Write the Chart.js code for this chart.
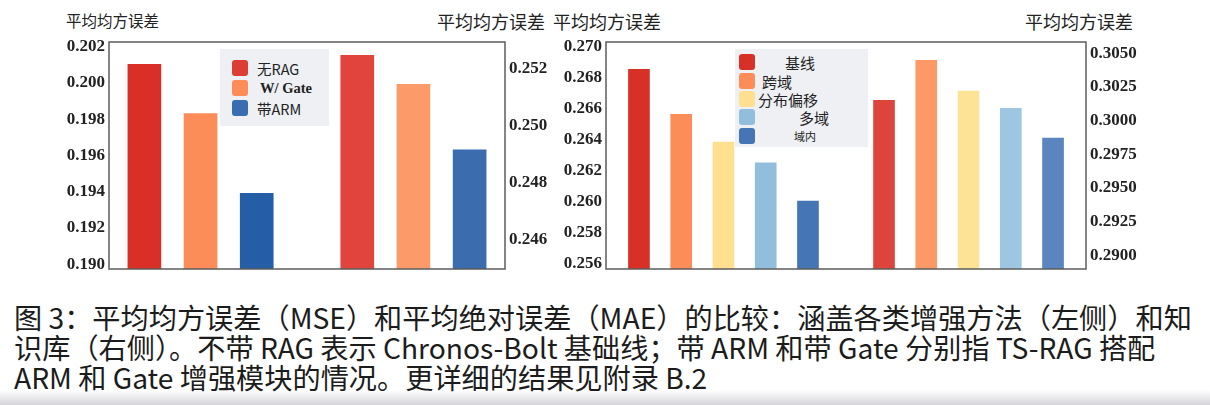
<!DOCTYPE html>
<html>
<head>
<meta charset="utf-8">
<script src="https://cdn.jsdelivr.net/npm/chart.js@4/dist/chart.umd.min.js"></script>
<style>
    html, body { margin: 0; padding: 0; background: #fff; }
    #page { position: relative; width: 1210px; height: 405px; overflow: hidden; background: #fff; }
    .cv { position: absolute; }
    .ttl { position: absolute; font-family: "Noto Sans CJK SC", sans-serif; color: #222; white-space: nowrap; line-height: 1; }
    .legend { position: absolute; background: #eef0f4; }
    .sw { position: absolute; width: 16px; height: 16px; border-radius: 3px; }
    .lb { position: absolute; white-space: nowrap; color: #222; line-height: 1; transform: translateY(-50%); }
    #caption { position: absolute; left: 14px; top: 302px; font-family: "Noto Sans CJK SC", sans-serif; font-size: 28.2px; line-height: 30px; color: #1c1c1c; white-space: nowrap; }
    #strip { position: absolute; left: 0; top: 390px; width: 1210px; height: 15px;
        background: linear-gradient(to bottom, rgba(255,255,255,0), rgba(150,150,160,0.4)); }
</style>
</head>
<body>
<div id="page">
    <div class="ttl" style="left:66px; top:13px; font-size:15.5px;">平均均方误差</div>
    <div class="ttl" style="left:437px; top:12px; font-size:18px;">平均均方误差</div>
    <div class="ttl" style="left:553px; top:12px; font-size:18px;">平均均方误差</div>
    <div class="ttl" style="left:1025px; top:12px; font-size:18px;">平均均方误差</div>

    <canvas id="chartLeft" class="cv" style="left:50px; top:24px;" width="510" height="263"></canvas>
    <canvas id="chartRight" class="cv" style="left:560px; top:24px;" width="600" height="263"></canvas>

    <div id="legendLeft" class="legend" style="left:220px; top:49px; width:109px; height:77px;"></div>
    <div id="legendRight" class="legend" style="left:735px; top:49px; width:133px; height:98px;"></div>

    <div id="strip"></div>
    <div id="caption">
        <div>图 3：平均均方误差（MSE）和平均绝对误差（MAE）的比较：涵盖各类增强方法（左侧）和知</div>
        <div>识库（右侧）。不带 RAG 表示 Chronos-Bolt 基础线；带 ARM 和带 Gate 分别指 TS-RAG 搭配</div>
        <div>ARM 和 Gate 增强模块的情况。更详细的结果见附录 B.2</div>
    </div>
</div>

<script>
    //DATA - left chart (enhancement methods)
    const methods = ['无RAG', 'W/ Gate', '带ARM'];
    const methodMse = [0.20103, 0.19831, 0.19392];
    const methodMae = [0.25248, 0.25146, 0.24915];
    const methodMseTicks = [0.190, 0.192, 0.194, 0.196, 0.198, 0.200, 0.202];
    const methodMaeTicks = [0.246, 0.248, 0.250, 0.252];

    //DATA - right chart (knowledge bases)
    const sources = ['基线', '跨域', '分布偏移', '多域', '域内'];
    const sourceMse = [0.26854, 0.26564, 0.26386, 0.26251, 0.26006];
    const sourceMae = [0.30151, 0.30448, 0.30220, 0.30092, 0.29871];
    const sourceMseTicks = [0.256, 0.258, 0.260, 0.262, 0.264, 0.266, 0.268, 0.270];
    const sourceMaeTicks = [0.2900, 0.2925, 0.2950, 0.2975, 0.3000, 0.3025, 0.3050];

    //COLORS
    const methodColorsA = ['#d92f27', '#fc8d59', '#255da6'];
    const methodColorsB = ['#e0443d', '#fd9a69', '#3a6cae'];
    const methodLegend = ['#dc3d36', '#fc8d59', '#3a6cb0'];
    const sourceColorsA = ['#d73027', '#fc8d59', '#fee090', '#91bfdb', '#4575b4'];
    const sourceColorsB = ['#dd443c', '#fd9966', '#fde396', '#9dc7e0', '#5a85bf'];

    const tickFont = { family: 'Liberation Serif', weight: 'bold', size: 17 };

    const framePlugin = {
        id: 'frame',
        afterDatasetsDraw(chart) {
            const a = chart.chartArea, ctx = chart.ctx;
            ctx.save();
            ctx.strokeStyle = '#5c5c5c';
            ctx.lineWidth = 1.5;
            ctx.strokeRect(a.left, a.top, a.right - a.left, a.bottom - a.top);
            ctx.restore();
        }
    };

    // two groups of bars on one linear x axis, a wider gap between the groups
    function groupPoints(values, group, gap) {
        var start = group * (values.length - 1 + gap);
        return values.map((v, i) => ({ x: start + i, y: v }));
    }

    function yAxis(pos, min, max, ticks, width, digits) {
        return {
            position: pos, min: min, max: max,
            grid: { display: false, drawTicks: false },
            border: { display: false },
            ticks: { font: tickFont, color: '#222', padding: 4, callback: (v) => Number(v).toFixed(digits) },
            afterBuildTicks: (axis) => { axis.ticks = ticks.map(v => ({ value: v })); },
            afterFit: (axis) => { axis.width = width; }
        };
    }

    function barChart(id, opt) {
        const ctx = document.getElementById(id).getContext('2d');
        var n = opt.a.length;
        new Chart(ctx, {
            type: 'bar',
            data: {
                datasets: [
                    { data: groupPoints(opt.a, 0, opt.gap), yAxisID: 'y', backgroundColor: opt.colA, grouped: false, barThickness: opt.bar },
                    { data: groupPoints(opt.b, 1, opt.gap), yAxisID: 'y1', backgroundColor: opt.colB, grouped: false, barThickness: opt.bar }
                ]
            },
            options: {
                responsive: false,
                animation: false,
                layout: { padding: { top: 18, bottom: 18, left: 0, right: 0 } },
                plugins: { legend: { display: false }, tooltip: { enabled: false } },
                scales: {
                    x: {
                        type: 'linear', display: false, offset: false,
                        min: -opt.edge, max: 2 * (n - 1) + opt.gap + opt.edge
                    },
                    y: yAxis('left', opt.yMin, opt.yMax, opt.yTicks, opt.wLeft, opt.dLeft),
                    y1: yAxis('right', opt.y1Min, opt.y1Max, opt.y1Ticks, opt.wRight, opt.dRight)
                }
            },
            plugins: [framePlugin]
        });
    }

    barChart('chartLeft', {
        a: methodMse, b: methodMae, colA: methodColorsA, colB: methodColorsB,
        gap: 1.79, edge: 0.63, bar: 33,
        yMin: 0.18974, yMax: 0.20226, yTicks: methodMseTicks, wLeft: 59, dLeft: 3,
        y1Min: 0.24495, y1Max: 0.25295, y1Ticks: methodMaeTicks, wRight: 55, dRight: 3
    });

    barChart('chartRight', {
        a: sourceMse, b: sourceMae, colA: sourceColorsA, colB: sourceColorsB,
        gap: 1.8, edge: 0.78, bar: 21,
        yMin: 0.25568, yMax: 0.27030, yTicks: sourceMseTicks, wLeft: 46, dLeft: 3,
        y1Min: 0.28898, y1Max: 0.30584, y1Ticks: sourceMaeTicks, wRight: 74, dRight: 4
    });

    //LEGENDS
    function buildLegend(id, labels, colors, rows, swX, textX, fonts) {
        var box = document.getElementById(id);
        labels.forEach((txt, i) => {
            var sw = document.createElement('div');
            sw.className = 'sw';
            sw.style.left = swX + 'px';
            sw.style.top = (rows[i] - 8) + 'px';
            sw.style.background = colors[i];
            box.appendChild(sw);

            var lb = document.createElement('div');
            lb.className = 'lb';
            lb.textContent = txt;
            lb.style.left = textX[i] + 'px';
            lb.style.top = rows[i] + 'px';
            lb.style.font = fonts[i];
            box.appendChild(lb);
        });
    }

    var cjk = '"Noto Sans CJK SC", sans-serif';
    buildLegend('legendLeft', methods, methodLegend,
        [19, 39, 59], 12, [37, 40, 37],
        ['14.5px ' + cjk, 'bold 14.5px "Liberation Serif"', '14.5px ' + cjk]);
    buildLegend('legendRight', sources, sourceColorsA,
        [13, 32, 50, 68, 87], 4, [50, 27, 23, 64, 59],
        ['15px ' + cjk, '15px ' + cjk, '15px ' + cjk, '15px ' + cjk, '11px ' + cjk]);
</script>
</body>
</html>
